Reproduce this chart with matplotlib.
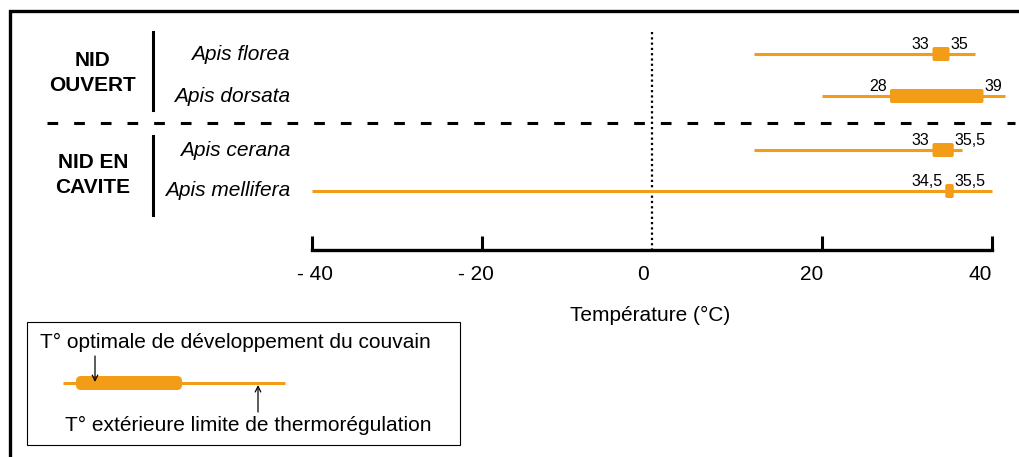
import matplotlib
matplotlib.use('Agg')
import matplotlib.pyplot as plt
from matplotlib.patches import Rectangle, FancyBboxPatch

plt.rcParams['font.family'] = ['Liberation Sans', 'DejaVu Sans']
plt.rcParams['lines.scale_dashes'] = False

# Data
species = ['Apis florea', 'Apis dorsata', 'Apis cerana', 'Apis mellifera']
groups = ['NID\nOUVERT', 'NID EN\nCAVITE']
ext_lo = [12, 20, 12, -40]      # T° extérieure limite (low end)
ext_hi = [38, 41.5, 36.5, 40]   # line end
opt_lo = [33, 28, 33, 34.5]     # T° optimale du couvain
opt_hi = [35, 39, 35.5, 35.5]
tick_vals = [-40, -20, 0, 20, 40]
tick_labels = ['- 40', '- 20', '0', '20', '40']

ORANGE = '#F39C17'
W, H = 1019, 457
row_y = [54, 96, 150, 191]          # row positions (pixels from top)
group_y = [73, 175]
tick_dx = [3, -6, -9, -10, -12]     # label nudges in pixels

fig = plt.figure(figsize=(W / 100, H / 100), dpi=100)

# background axes in pixel coordinates for frame / decorations
bg = fig.add_axes([0, 0, 1, 1])
bg.set_xlim(0, W)
bg.set_ylim(H, 0)
bg.axis('off')

# data axes: x in °C, y in pixel rows
x0, ppd = 652, 8.5
ax = fig.add_axes([0, (H - 250) / H, 1, 230 / H])
ax.set_xlim(-x0 / ppd, (W - x0) / ppd)
ax.set_ylim(250, 20)
ax.patch.set_alpha(0)
for s in ['left', 'right', 'top']:
    ax.spines[s].set_visible(False)
ax.spines['bottom'].set_bounds(-40, 40)
ax.spines['bottom'].set_linewidth(2.4)
ax.spines['bottom'].set_capstyle('projecting')
ax.set_yticks([])
ax.set_xticks([t for t in tick_vals if t != 0])
ax.set_xticklabels([])
ax.tick_params(axis='x', direction='in', length=10, width=2.2)

for v, lab, dx in zip(tick_vals, tick_labels, tick_dx):
    ax.annotate(lab, xy=(v, 250), xytext=(dx, -24), textcoords='offset pixels',
                ha='center', va='center', fontsize=15)

ax.set_xlabel('Température (°C)', fontsize=15)
ax.xaxis.set_label_coords(650 / W, -65 / 230)
ax.xaxis.label.set_verticalalignment('center')

# dotted zero line
ax.plot([0, 0], [32, 250], color='k', lw=1.6, linestyle=(0, (1.6, 2.2)), zorder=1)


def fmt(v):
    return ('%g' % v).replace('.', ',')


def draw_range(a, y, lo, hi, olo, ohi, xscale, r=4):
    # xscale: pixels per x unit, so the rounded corners stay round
    a.plot([lo, hi], [y, y], color=ORANGE, lw=2.2, solid_capstyle='butt',
           zorder=3, clip_on=False)
    a.add_patch(FancyBboxPatch((olo, y - 7), ohi - olo, 14,
                               boxstyle='round,pad=0,rounding_size=%g' % (r / xscale),
                               mutation_aspect=xscale, facecolor=ORANGE,
                               edgecolor='none', zorder=4, clip_on=False))


for y, lo, hi, olo, ohi in zip(row_y, ext_lo, ext_hi, opt_lo, opt_hi):
    draw_range(ax, y, lo, hi, olo, ohi, ppd, r=2)
    ax.annotate(fmt(olo), xy=(olo, y), xytext=(-3, 5), textcoords='offset pixels',
                ha='right', va='baseline', fontsize=11.5)
    ax.annotate(fmt(ohi), xy=(ohi, y), xytext=(1, 5), textcoords='offset pixels',
                ha='left', va='baseline', fontsize=11.5)

for y, name in zip(row_y, species):
    bg.text(290, y, name, ha='right', va='center', fontsize=15, style='italic')

for y, g in zip(group_y, groups):
    bg.text(93, y, g, ha='center', va='center', fontsize=15, fontweight='bold',
            linespacing=1.4)

# group separators
bg.plot([153, 153], [32, 110], color='k', lw=2.2)
bg.plot([153, 153], [136, 215], color='k', lw=2.2)
bg.plot([47, 1015], [123, 123], color='k', lw=2.2, linestyle=(0, (7.7, 11.5)))

# outer frame (right and bottom cut off)
bg.plot([10, 10, W], [H, 11, 11], color='k', lw=2.4, solid_joinstyle='miter')

# legend
bg.add_patch(Rectangle((27, 322), 433, 123, fill=False, edgecolor='k', lw=0.8))
bg.text(40, 342, 'T° optimale de développement du couvain', ha='left', va='center',
        fontsize=15)
bg.text(65, 425, 'T° extérieure limite de thermorégulation', ha='left', va='center',
        fontsize=15)
draw_range(bg, 383, 63, 285, 76, 182, 1, r=5)
bg.annotate('', xy=(95, 382), xytext=(95, 356), zorder=6,
            arrowprops=dict(arrowstyle='->', lw=0.9, color='k', shrinkA=0, shrinkB=0))
bg.annotate('', xy=(258, 385), xytext=(258, 412), zorder=6,
            arrowprops=dict(arrowstyle='->', lw=0.9, color='k', shrinkA=0, shrinkB=0))

fig.savefig('out.png', dpi=100, facecolor='white')
